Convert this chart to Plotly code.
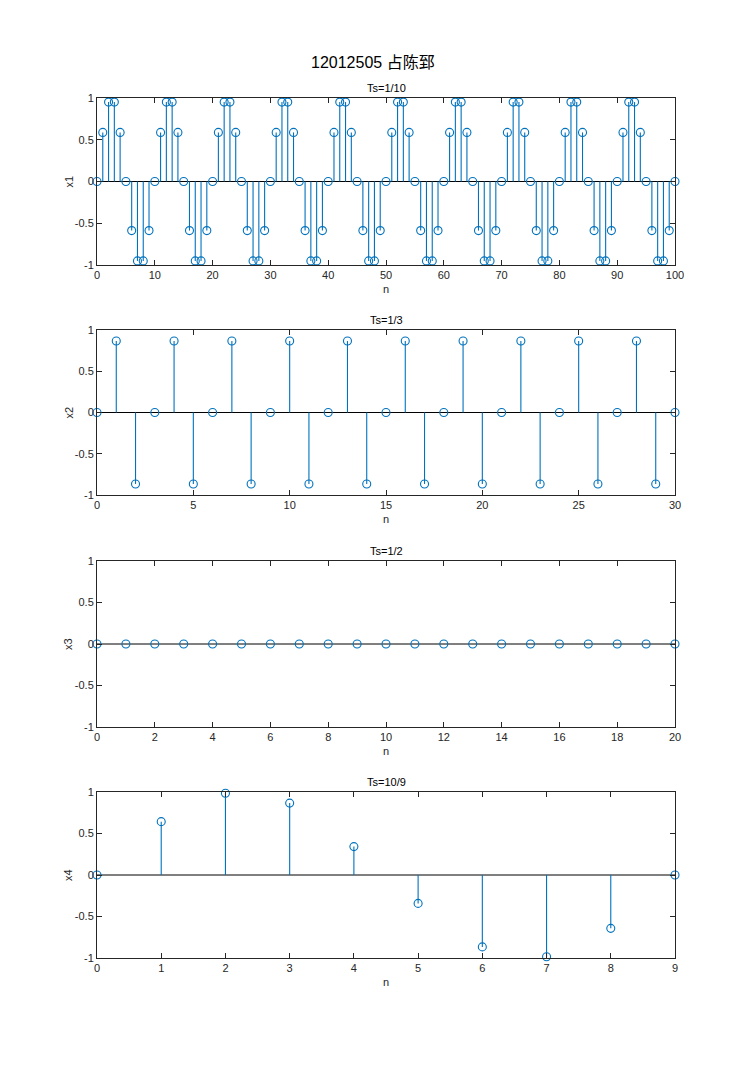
import plotly.graph_objects as go

W, H = 746, 1075

main_title = "12012505 占陈郅"
titles = ["Ts=1/10", "Ts=1/3", "Ts=1/2", "Ts=10/9"]
ylabels = ["x1", "x2", "x3", "x4"]

x1 = [0, 0.5878, 0.9511, 0.9511, 0.5878, 0, -0.5878, -0.9511, -0.9511, -0.5878,
      0, 0.5878, 0.9511, 0.9511, 0.5878, 0, -0.5878, -0.9511, -0.9511, -0.5878,
      0, 0.5878, 0.9511, 0.9511, 0.5878, 0, -0.5878, -0.9511, -0.9511, -0.5878,
      0, 0.5878, 0.9511, 0.9511, 0.5878, 0, -0.5878, -0.9511, -0.9511, -0.5878,
      0, 0.5878, 0.9511, 0.9511, 0.5878, 0, -0.5878, -0.9511, -0.9511, -0.5878,
      0, 0.5878, 0.9511, 0.9511, 0.5878, 0, -0.5878, -0.9511, -0.9511, -0.5878,
      0, 0.5878, 0.9511, 0.9511, 0.5878, 0, -0.5878, -0.9511, -0.9511, -0.5878,
      0, 0.5878, 0.9511, 0.9511, 0.5878, 0, -0.5878, -0.9511, -0.9511, -0.5878,
      0, 0.5878, 0.9511, 0.9511, 0.5878, 0, -0.5878, -0.9511, -0.9511, -0.5878,
      0, 0.5878, 0.9511, 0.9511, 0.5878, 0, -0.5878, -0.9511, -0.9511, -0.5878,
      0]
x2 = [0, 0.866, -0.866, 0, 0.866, -0.866, 0, 0.866, -0.866, 0, 0.866, -0.866,
      0, 0.866, -0.866, 0, 0.866, -0.866, 0, 0.866, -0.866, 0, 0.866, -0.866,
      0, 0.866, -0.866, 0, 0.866, -0.866, 0]
x3 = [0, 0, 0, 0, 0, 0, 0, 0, 0, 0, 0, 0, 0, 0, 0, 0, 0, 0, 0, 0, 0]
x4 = [0, 0.6428, 0.9848, 0.866, 0.342, -0.342, -0.866, -0.9848, -0.6428, 0]

series = [x1, x2, x3, x4]
xticks = [list(range(0, 101, 10)), list(range(0, 31, 5)),
          list(range(0, 21, 2)), list(range(0, 10, 1))]
yticks = [-1, -0.5, 0, 0.5, 1]
yticktext = ["-1", "-0.5", "0", "0.5", "1"]

# page-pixel layout of the axes boxes
ax_left, ax_right = 97, 675
ax_tops = [98, 330, 561, 792]
ax_bots = [265, 495, 727, 958]


def fx(p):
    return p / W


def fy(p):
    return 1 - p / H


STEM = "#0072BD"
AX = "#262626"
FONT = "Liberation Sans, Arial, Noto Sans CJK SC, sans-serif"

fig = go.Figure()
annotations = []

for i, vals in enumerate(series):
    n = list(range(len(vals)))
    xa = "x" if i == 0 else f"x{i+1}"
    ya = "y" if i == 0 else f"y{i+1}"
    xmax = n[-1]
    # baseline
    fig.add_trace(go.Scatter(x=[0, xmax], y=[0, 0], mode="lines",
                             line=dict(color="black", width=1),
                             xaxis=xa, yaxis=ya, showlegend=False, hoverinfo="skip"))
    sx, sy = [], []
    for k, v in zip(n, vals):
        sx += [k, k, None]
        sy += [0, v, None]
    fig.add_trace(go.Scatter(x=sx, y=sy, mode="lines",
                             line=dict(color=STEM, width=1.1),
                             xaxis=xa, yaxis=ya, showlegend=False, hoverinfo="skip"))
    fig.add_trace(go.Scatter(x=n, y=vals, mode="markers",
                             marker=dict(symbol="circle-open", size=8,
                                         color=STEM, line=dict(width=1.1, color=STEM)),
                             cliponaxis=False,
                             xaxis=xa, yaxis=ya, showlegend=False))

    axis_common = dict(showline=True, linecolor=AX, linewidth=1, mirror="ticks",
                       ticks="inside", ticklen=5, tickcolor=AX, tickwidth=1,
                       showgrid=False, zeroline=False, automargin=False,
                       tickfont=dict(family=FONT, size=11, color=AX))
    fig.update_layout(**{
        ("xaxis" if i == 0 else f"xaxis{i+1}"): dict(
            domain=[fx(ax_left), fx(ax_right)], range=[0, xmax],
            anchor=ya, tickvals=xticks[i],
            ticktext=[str(t) for t in xticks[i]], **axis_common),
        ("yaxis" if i == 0 else f"yaxis{i+1}"): dict(
            domain=[fy(ax_bots[i]), fy(ax_tops[i])], range=[-1, 1], anchor=xa,
            tickvals=yticks, ticktext=yticktext, **axis_common),
    })
    cx = fx((ax_left + ax_right) / 2)
    annotations.append(dict(text=titles[i], x=cx, y=fy(ax_tops[i] - 10),
                            xref="paper", yref="paper", showarrow=False,
                            xanchor="center", yanchor="middle",
                            font=dict(family=FONT, size=11, color="black")))
    annotations.append(dict(text="n", x=cx, y=fy(ax_bots[i] + 24),
                            xref="paper", yref="paper", showarrow=False,
                            xanchor="center", yanchor="middle",
                            font=dict(family=FONT, size=11, color=AX)))
    annotations.append(dict(text=ylabels[i], x=fx(68),
                            y=fy((ax_tops[i] + ax_bots[i]) / 2),
                            xref="paper", yref="paper", showarrow=False,
                            textangle=-90, xanchor="center", yanchor="middle",
                            font=dict(family=FONT, size=11, color=AX)))

annotations.append(dict(text=main_title, x=fx(W / 2), y=fy(63),
                        xref="paper", yref="paper", showarrow=False,
                        xanchor="center", yanchor="middle",
                        font=dict(family=FONT, size=16, color="black")))

fig.update_layout(template="none", width=W, height=H,
                  margin=dict(l=0, r=0, t=0, b=0, pad=0, autoexpand=False),
                  paper_bgcolor="white", plot_bgcolor="white",
                  annotations=annotations, showlegend=False)

fig.write_html("out.html")
